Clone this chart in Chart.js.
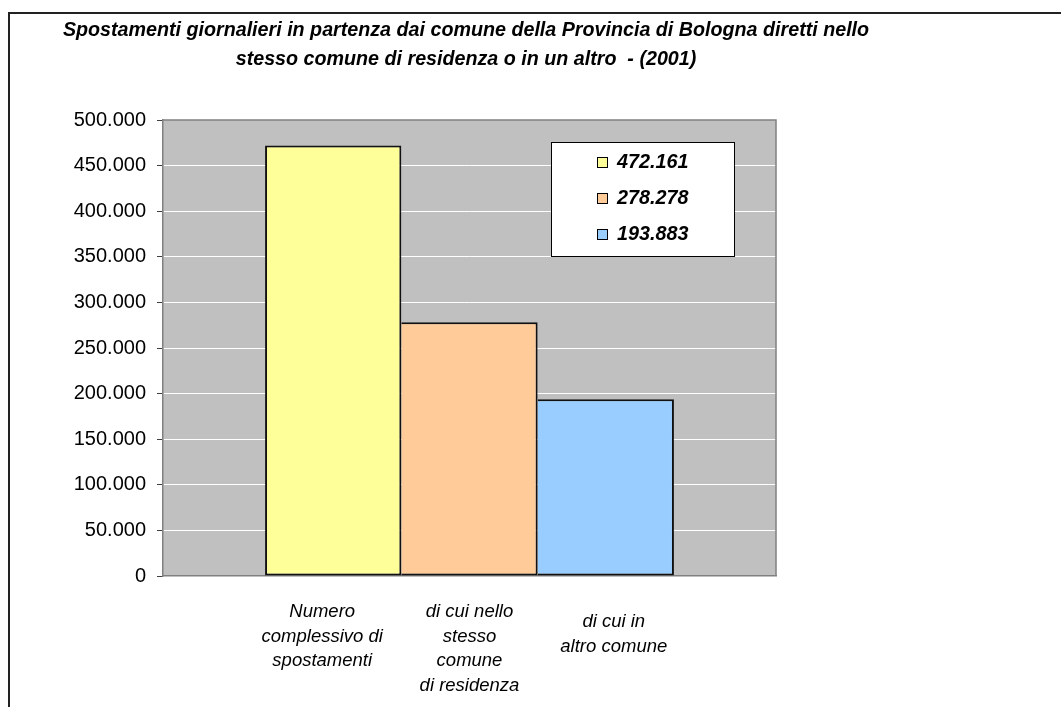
<!DOCTYPE html>
<html lang="it">
<head>
  <meta charset="UTF-8">
  <title>Spostamenti giornalieri - Provincia di Bologna (2001)</title>
  <script src="https://cdn.jsdelivr.net/npm/chart.js"></script>
  <style>
    html, body { margin: 0; padding: 0; background: #fff; }
    #wrap { position: relative; width: 1061px; height: 707px; }
  </style>
</head>
<body>
  <div id="wrap">
    <canvas id="spostChart" width="1061" height="707"></canvas>
  </div>

  <script>
    // dati
    const titleLines = [
      "Spostamenti giornalieri in partenza dai comune della Provincia di Bologna diretti nello",
      "stesso comune di residenza o in un altro  - (2001)"
    ];
    const values = [472161, 278278, 193883];
    const barLabels = [
      ["Numero", "complessivo di", "spostamenti"],
      ["di cui nello", "stesso", "comune", "di residenza"],
      ["di cui in", "altro comune"]
    ];
    const barColors = ["#FFFF99", "#FFCC99", "#99CCFF"];
    const yMin = 0, yMax = 500000, yStep = 50000;

    const FONT = "'Liberation Sans', Arial, sans-serif";

    function fmtIt(n) {
      return String(n).replace(/\B(?=(\d{3})+(?!\d))/g, ".");
    }

    // small nudges of the text boxes under the bars
    const labelShift = [{ dx: -11, dy: 0 }, { dx: 0, dy: 0 }, { dx: 8, dy: 10 }];

    const frame = {
      id: "frame",
      beforeDraw(chart) {
        const { ctx, chartArea: a } = chart;
        ctx.save();
        ctx.fillStyle = "#C0C0C0";
        ctx.fillRect(a.left, a.top, a.right - a.left, a.bottom - a.top);
        ctx.restore();
      },
      afterDraw(chart) {
        const { ctx, chartArea: a } = chart;
        ctx.save();
        // plot border top/right
        ctx.strokeStyle = "#808080";
        ctx.lineWidth = 1.5;
        ctx.beginPath();
        ctx.moveTo(a.left, a.top);
        ctx.lineTo(a.right, a.top);
        ctx.lineTo(a.right, a.bottom);
        ctx.stroke();

        // outer chart border
        ctx.strokeStyle = "#222";
        ctx.lineWidth = 2;
        ctx.beginPath();
        ctx.moveTo(9, chart.height + 5);
        ctx.lineTo(9, 13);
        ctx.lineTo(chart.width + 5, 13);
        ctx.stroke();

        // title
        ctx.fillStyle = "#000";
        ctx.font = "italic bold 19.7px " + FONT;
        ctx.textAlign = "center";
        ctx.textBaseline = "middle";
        ctx.fillText(titleLines[0], 466, 31);
        ctx.fillText(titleLines[1], 466, 60);

        // category texts below bars
        ctx.font = "italic 18.5px " + FONT;
        chart.data.datasets.forEach((ds, i) => {
          const bar = chart.getDatasetMeta(i).data[0];
          const sh = labelShift[i];
          barLabels[i].forEach((line, j) => {
            ctx.fillText(line, bar.x + sh.dx, a.bottom + 36 + sh.dy + j * 24.6);
          });
        });

        // legend box
        const lx = a.left + 388, ly = a.top + 22, lw = 183, lh = 114;
        ctx.fillStyle = "#fff";
        ctx.fillRect(lx, ly, lw, lh);
        ctx.strokeStyle = "#000";
        ctx.lineWidth = 1;
        ctx.strokeRect(lx + 0.5, ly + 0.5, lw, lh);
        ctx.font = "italic bold 19.8px " + FONT;
        ctx.textAlign = "left";
        chart.data.datasets.forEach((ds, i) => {
          const cy = ly + 20 + i * 36;
          ctx.fillStyle = ds.backgroundColor;
          ctx.fillRect(lx + 46, cy - 5, 11, 11);
          ctx.strokeStyle = "#000";
          ctx.strokeRect(lx + 46.5, cy - 4.5, 10, 10);
          ctx.fillStyle = "#000";
          ctx.fillText(ds.label, lx + 66, cy + 1);
        });
        ctx.restore();
      }
    };

    const ctx = document.getElementById("spostChart").getContext("2d");
    new Chart(ctx, {
      type: "bar",
      data: {
        labels: [""],
        datasets: values.map((v, i) => ({
          label: fmtIt(v),
          data: [v],
          backgroundColor: barColors[i],
          borderColor: "#111",
          // adjacent bars share one edge line
          borderWidth: i === 0 ? 2 : { top: 2, right: 2, bottom: 2, left: 0 },
          borderSkipped: false,
          categoryPercentage: 0.667,
          barPercentage: 1.0
        }))
      },
      options: {
        responsive: false,
        animation: false,
        layout: { padding: { top: 120, right: 285, bottom: 0, left: 0 } },
        plugins: {
          legend: { display: false },
          title: { display: false },
          tooltip: { enabled: false }
        },
        scales: {
          x: {
            grid: { display: false },
            border: { color: "#808080", width: 1.5 },
            ticks: { display: false },
            afterFit(scale) { scale.height = 131; }
          },
          y: {
            min: yMin,
            max: yMax,
            ticks: {
              stepSize: yStep,
              color: "#000",
              padding: 11,
              font: { family: FONT, size: 20 },
              callback: v => fmtIt(v)
            },
            grid: {
              color: c => (c.tick && (c.tick.value === yMin || c.tick.value === yMax)) ? "rgba(0,0,0,0)" : "#FFFFFF",
              tickColor: "#404040",
              tickLength: 6,
              lineWidth: 1
            },
            border: { color: "#808080", width: 1.5 },
            afterFit(scale) { scale.width = 163; }
          }
        }
      },
      plugins: [frame]
    });
  </script>
</body>
</html>
